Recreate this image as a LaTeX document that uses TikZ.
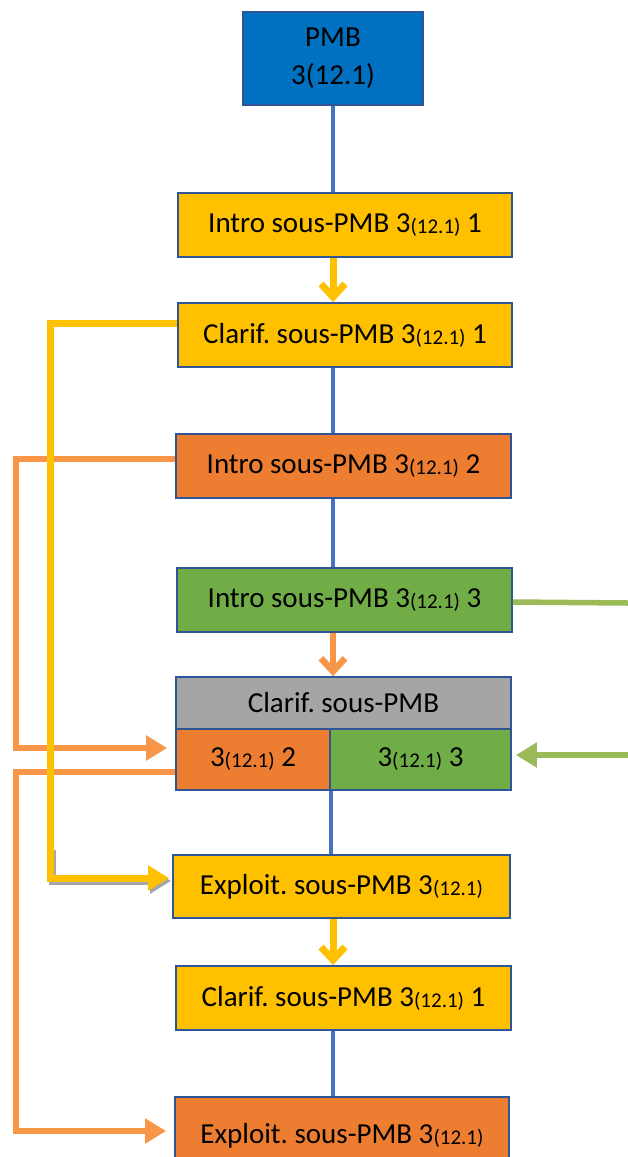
\documentclass[tikz,border=0pt]{standalone}
\usepackage{fontspec}
\setmainfont{Carlito}
\usetikzlibrary{arrows.meta}
\definecolor{pmbblue}{HTML}{0070C0}
\definecolor{bordblue}{HTML}{2F5597}
\definecolor{lineblue}{HTML}{4472C4}
\definecolor{cyellow}{HTML}{FFC000}
\definecolor{corange}{HTML}{ED7D31}
\definecolor{lorange}{HTML}{F79646}
\definecolor{cgreen}{HTML}{70AD47}
\definecolor{lgreen}{HTML}{9BBB59}
\definecolor{cgray}{HTML}{A5A5A5}
\definecolor{shgray}{HTML}{A6A6A6}
\frenchspacing
\newcommand\smallpar{{\fontsize{21}{21}\selectfont\raisebox{-1pt}{(12.1)}}}
\tikzset{
  box/.style={draw=bordblue, line width=1.8pt, inner sep=0pt, minimum height=64pt, align=center},
  blueline/.style={draw=lineblue, line width=3.5pt},
  yel/.style={draw=cyellow, line width=7pt},
  orl/.style={draw=lorange, line width=6.5pt},
  grl/.style={draw=lgreen, line width=5.5pt},
  vtip/.style={-{Straight Barb[length=13pt,width=24pt]}},
  ttip/.style={-{Triangle[length=21pt,width=24pt]}},
}
\begin{document}
\begin{tikzpicture}[x=1pt,y=-1pt,font=\fontsize{29}{38}\selectfont]
\useasboundingbox (0,0) rectangle (628,1157);
% nodes
\node[box, fill=pmbblue, minimum width=180pt, minimum height=93pt] (pmb) at (333,58.5) {PMB\\3(12.1)};
\node[box, fill=cyellow, minimum width=334pt] (i1) at (345,225) {Intro sous-PMB 3\smallpar{} 1};
\node[box, fill=cyellow, minimum width=334pt] (c1) at (345,335) {Clarif. sous-PMB 3\smallpar{} 1};
\node[box, fill=corange, minimum width=335pt] (i2) at (343.5,466) {Intro sous-PMB 3\smallpar{} 2};
\node[box, fill=cgreen, minimum width=335pt] (i3) at (344.5,600) {Intro sous-PMB 3\smallpar{} 3};
\node[box, fill=cgray, minimum width=335pt, minimum height=52pt] (cg) at (343.5,703) {Clarif. sous-PMB};
\node[box, fill=corange, minimum width=154pt, minimum height=61pt] (c2) at (253,759.5) {3\smallpar{} 2};
\node[box, fill=cgreen, minimum width=181pt, minimum height=61pt] (c3) at (420.5,759.5) {3\smallpar{} 3};
\node[box, fill=cyellow, minimum width=337pt, minimum height=63pt] (e1) at (341.5,886.5) {Exploit. sous-PMB 3\smallpar};
\node[box, fill=cyellow, minimum width=335pt] (c1b) at (343.5,998) {Clarif. sous-PMB 3\smallpar{} 1};
\node[box, fill=corange, minimum width=334pt, minimum height=70pt, text depth=0pt] (e2) at (342,1132) {\raisebox{-2pt}{Exploit. sous-PMB 3\smallpar}};
% helper coordinates
\coordinate (xo) at (16,0);
\coordinate (xy) at (50,0);
\coordinate (xg) at (628,0);
% vertical connectors
\draw[blueline] (pmb.south) -- (pmb.south |- i1.north);
\draw[yel, vtip] (i1.south -| pmb.south) -- (c1.north -| pmb.south);
\draw[blueline] (c1.south -| pmb.south) -- (i2.north -| pmb.south);
\draw[blueline] (i2.south -| pmb.south) -- (i3.north -| pmb.south);
\draw[orl, vtip] (i3.south -| pmb.south) -- (cg.north -| pmb.south);
\draw[blueline] (c2.south east) -- (e1.north -| c2.south east);
\draw[yel, vtip] (e1.south -| pmb.south) -- (c1b.north -| pmb.south);
\draw[blueline] (c1b.south -| pmb.south) -- (e2.north -| pmb.south);
% side connectors
\draw[orl, ttip, shorten >=8pt] ([yshift=7pt]i2.west) -- ([yshift=7pt]i2.west -| xo) |- ([yshift=11.5pt]c2.west);
\draw[orl, ttip, shorten >=8pt] ([yshift=-12.5pt]c2.west) -- ([yshift=-12.5pt]c2.west -| xo) |- ([yshift=1pt]e2.west);
\draw[draw=shgray, line width=7pt, ttip, shorten >=3pt, transform canvas={xshift=2pt,yshift=-3pt}] ([yshift=40pt]e1.west -| xy) |- ([yshift=8.5pt]e1.west);
\draw[yel, ttip, shorten >=3pt] ([yshift=12pt]c1.west) -- ([yshift=12pt]c1.west -| xy) |- ([yshift=8.5pt]e1.west);
\draw[grl] ([yshift=-2pt]i3.east) -- ([yshift=-3pt]i3.east -| xg);
\draw[grl, ttip, shorten >=4pt] ([yshift=4.5pt]c3.east -| xg) -- ([yshift=4.5pt]c3.east);
\end{tikzpicture}
\end{document}
